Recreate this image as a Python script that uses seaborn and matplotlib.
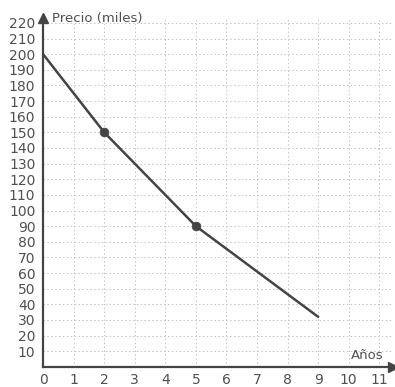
import pandas as pd
import seaborn as sns
import matplotlib.pyplot as plt

# data
years = [0, 2, 5, 9]
price = [200, 150, 90, 32]
marked_years = [2, 5]
marked_price = [150, 90]
x_ticks = list(range(0, 12))
y_ticks = list(range(10, 230, 10))

line_df = pd.DataFrame({'Años': years, 'Precio': price})
dots_df = pd.DataFrame({'Años': marked_years, 'Precio': marked_price})

sns.set_style('white')
plt.rcParams['font.family'] = ['DejaVu Sans']

fig = plt.figure(figsize=(3.95, 3.87), dpi=100)
ax = fig.add_axes([0.109, 0.052, 0.886, 0.901])

ink = '#444444'

sns.lineplot(x='Años', y='Precio', data=line_df, color=ink, linewidth=1.8, ax=ax)
sns.scatterplot(x='Años', y='Precio', data=dots_df, color=ink, s=40, edgecolor=ink, zorder=5, ax=ax)

ax.set_xlim(0, 11.45)
ax.set_ylim(0, 223)
ax.set_xticks(x_ticks)
ax.set_yticks(y_ticks)
ax.set_xlabel('')
ax.set_ylabel('')

# dashed grid, faint like the scan
ax.grid(True, linestyle=(0, (1.5, 2.5)), color='#c4c4c4', linewidth=0.7)
ax.set_axisbelow(True)

# axes drawn as arrows
for side in ['top', 'right']:
    ax.spines[side].set_visible(False)
for side in ['left', 'bottom']:
    ax.spines[side].set_color(ink)
    ax.spines[side].set_linewidth(1.6)
ax.plot(1, 0, '>', color=ink, markersize=7, transform=ax.get_yaxis_transform(), clip_on=False)
ax.plot(0, 1, '^', color=ink, markersize=7, transform=ax.get_xaxis_transform(), clip_on=False)

ax.tick_params(axis='both', direction='inout', length=7, width=1.3, color=ink,
               labelcolor='#505050', labelsize=10, pad=2)
ax.tick_params(axis='x', pad=1)

ax.text(0.3, 223, 'Precio (miles)', fontsize=9.5, color='#505050', va='center', ha='left')
ax.text(11.15, 7, 'Años', fontsize=9.5, color='#505050', va='center', ha='right')

fig.savefig('out.png', dpi=100)
